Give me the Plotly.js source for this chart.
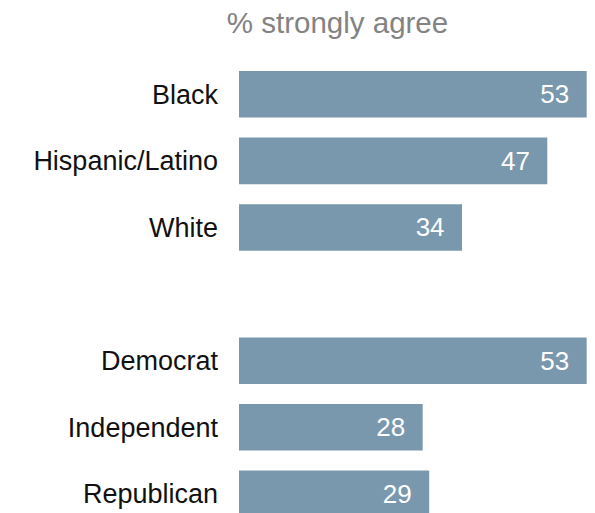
<!DOCTYPE html>
<html>
<head>
<meta charset="utf-8">
<script src="https://cdn.plot.ly/plotly-3.0.1.min.js"></script>
<style>html,body{margin:0;padding:0;background:#fff}#chart{width:595px;height:513px}</style>
</head>
<body>
<div id="chart"></div>
<script>
const categories = ["Black", "Hispanic/Latino", "White", " ", "Democrat", "Independent", "Republican"];
const values = [53, 47, 34, null, 53, 28, 29];
const titleText = "% strongly agree";

const font = "Helvetica, 'Liberation Sans', Arial, sans-serif";

Plotly.newPlot("chart", [{
  type: "bar",
  orientation: "h",
  y: categories,
  x: values,
  marker: {color: "#7a98ad"},
  texttemplate: "%{x}\u00a0\u00a0",
  textposition: "inside",
  insidetextanchor: "end",
  textfont: {color: "#ffffff", size: 26, family: font},
  hoverinfo: "none",
  width: 0.7
}], {
  width: 595, height: 513,
  margin: {l: 239, r: 0, t: 61, b: 0, pad: 0},
  paper_bgcolor: "#ffffff",
  plot_bgcolor: "#ffffff",
  showlegend: false,
  title: {
    text: titleText,
    font: {family: font, size: 29.5, color: "#838383"},
    xref: "container", x: 337.5/595, xanchor: "center",
    yref: "container", y: 1 - 23/513, yanchor: "middle"
  },
  xaxis: {range: [0, 54.27], visible: false, fixedrange: true},
  yaxis: {
    type: "category",
    categoryorder: "array",
    categoryarray: categories,
    range: [6.287, -0.5],
    autorange: false,
    showgrid: false, zeroline: false, showline: false,
    ticks: "",
    ticklabelstandoff: 20,
    tickfont: {family: font, size: 27, color: "#111111"},
    fixedrange: true
  }
}, {displayModeBar: false, staticPlot: true});
</script>
</body>
</html>
